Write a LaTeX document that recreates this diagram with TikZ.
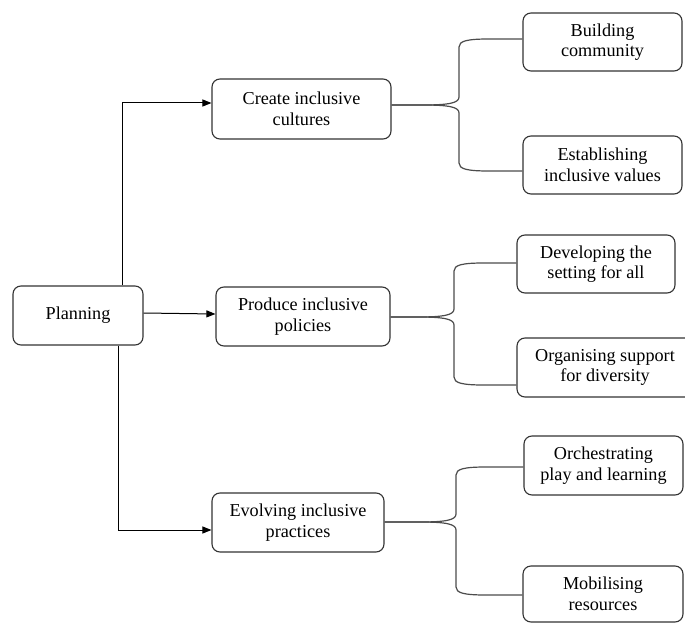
\documentclass[tikz,border=0pt]{standalone}
\usepackage{fontspec}
\setmainfont{LiberationSerif}[Extension=.ttf, UprightFont=*-Regular, BoldFont=*-Bold]
\usetikzlibrary{arrows.meta}
\newcommand\brch[6]{%
  \draw[brace] (#1) -- ({#3-36},#2) .. controls ({#3-10},#2) and (#3,{#2+#6*2}) .. (#3,{#2+#6*8})
    -- (#3,{#5-#6*8}) .. controls (#3,{#5-#6*2}) and ({#3+8},#5) .. ({#3+30},#5) -- (#4);}
\begin{document}
\begin{tikzpicture}[x=1pt,y=-1pt,
  box/.style={draw=black!80, line width=1.1pt, rounded corners=8pt, align=center,
    inner sep=0pt, font=\fontsize{18.2}{20.5}\selectfont},
  arr/.style={draw=black, line width=1pt, -{Triangle[length=9pt,width=7pt]}},
  brace/.style={draw=black!70, line width=1.2pt}]
\useasboundingbox (0,0) rectangle (685,623);
\clip (0,0) rectangle (685,623);
\fill[white] (0,0) rectangle (685,623);

\node[box, minimum width=130pt, minimum height=59pt] (plan) at (78,315.5) {Planning};
\node[box, minimum width=179pt, minimum height=60pt] (cre) at (301.5,109) {Create inclusive\\cultures};
\node[box, minimum width=174pt, minimum height=59pt] (pro) at (303,316.5) {Produce inclusive\\policies};
\node[box, minimum width=172pt, minimum height=59pt] (evo) at (298,522.5) {Evolving inclusive\\practices};

\node[box, minimum width=159pt, minimum height=58pt] (bld) at (602.5,42) {Building\\community};
\node[box, minimum width=159pt, minimum height=58pt] (est) at (602.5,165) {Establishing\\inclusive values};
\node[box, minimum width=158pt, minimum height=58pt] (dev) at (596,264) {Developing the\\setting for all};
\node[box, minimum width=176pt, minimum height=59pt] (org) at (605,367.5) {Organising support\\for diversity};
\node[box, minimum width=159pt, minimum height=59pt] (orc) at (603.5,465.5) {Orchestrating\\play and learning};
\node[box, minimum width=160pt, minimum height=56pt] (mob) at (603,594) {Mobilising\\resources};

\draw[arr] (plan.north -| 122,0) |- (cre.west |- 0,103);
\draw[arr] (plan.east |- 0,313) -- (pro.west |- 0,314);
\draw[arr] (plan.south -| 118,0) |- (evo.west |- 0,530);

\brch{cre.east |- 0,105}{105}{459}{bld.west |- 0,39}{39}{-1}
\brch{cre.east |- 0,105}{105}{459}{est.west |- 0,171}{171}{1}
\brch{pro.east |- 0,317}{317}{454}{dev.west |- 0,263}{263}{-1}
\brch{pro.east |- 0,317}{317}{454}{org.west |- 0,385}{385}{1}
\brch{evo.east |- 0,522}{522}{456}{orc.west |- 0,467}{467}{-1}
\brch{evo.east |- 0,522}{522}{456}{mob.west |- 0,595}{595}{1}
\end{tikzpicture}
\end{document}
